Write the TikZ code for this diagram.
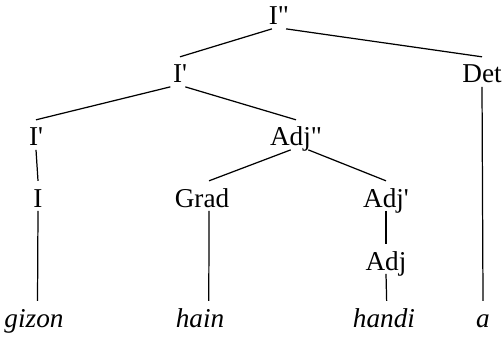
\documentclass[tikz,border=0pt]{standalone}
\usepackage{fontspec}
\setmainfont{Liberation Serif}[Ligatures=TeXOff]
\begin{document}
\begin{tikzpicture}
[x=0.02cm,y=-0.02cm,
  catdecorate/.style={anchor=base,inner sep=2pt,text height=12.7pt,text depth=0pt,%
    font=\fontsize{15.5}{18}\selectfont},
  worddecorate/.style={catdecorate,font=\fontsize{15.5}{18}\selectfont\itshape},
  linedecorate/.style={line width=0.7pt}]
\useasboundingbox (0,0) rectangle (502,337);
% category labels
\node (i2) at (279,25) [catdecorate] {I"};
\node (i1) at (180,83) [catdecorate] {I'};
\node (det) at (482,83) [catdecorate] {Det};
\node (i1b) at (36,146) [catdecorate] {I'};
\node (adj2) at (296,146) [catdecorate] {Adj"};
\node (inode) at (38,207) [catdecorate] {I};
\node (grad) at (202,207) [catdecorate] {Grad};
\node (adj1) at (386,207) [catdecorate] {Adj'};
\node (adj) at (386,270) [catdecorate] {Adj};
% words
\node (gizon) at (34,327) [worddecorate] {gizon};
\node (hain) at (200,327) [worddecorate] {hain};
\node (handi) at (384,327) [worddecorate] {handi};
\node (a) at (483,327) [worddecorate] {a};
% branches
\path
([xshift=-4pt]i2.south) edge[linedecorate] (i1.north)
([xshift=4pt]i2.south) edge[linedecorate] (det.north)
([xshift=-5.5pt]i1.south) edge[linedecorate] (i1b.north)
([xshift=3pt]i1.south) edge[linedecorate] (adj2.north)
([xshift=-3pt]adj2.south) edge[linedecorate] ([xshift=4pt]grad.north)
([xshift=7pt]adj2.south) edge[linedecorate] (adj1.north)
(i1b.south) edge[linedecorate] (inode.north)
(inode.south) edge[linedecorate] ([xshift=2pt]gizon.north)
([xshift=4pt]grad.south) edge[linedecorate] ([xshift=5pt]hain.north)
(adj1.south) edge[linedecorate] (adj.north)
(adj.south) edge[linedecorate] ([xshift=1.5pt]handi.north)
(det.south) edge[linedecorate] (a.north);
\end{tikzpicture}
\end{document}
